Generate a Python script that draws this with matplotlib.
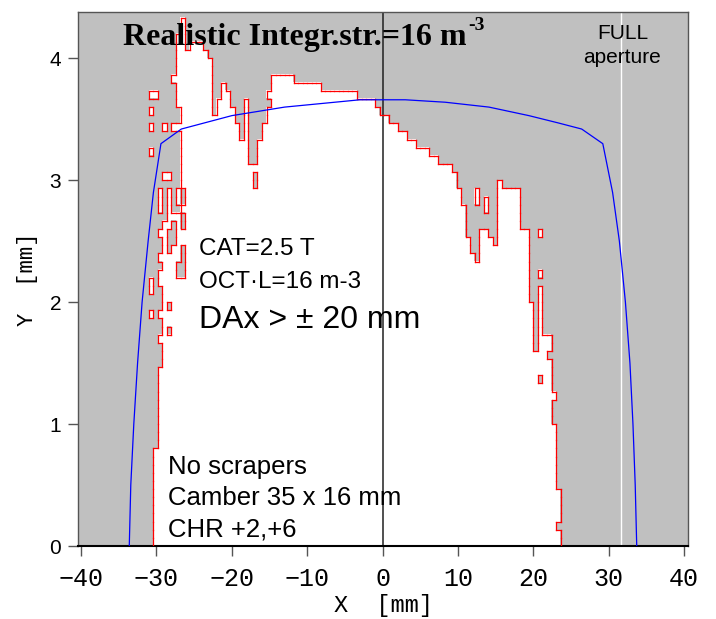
import numpy as np
import matplotlib
matplotlib.use('Agg')
import matplotlib.pyplot as plt
from matplotlib.colors import ListedColormap
from matplotlib.collections import LineCollection

# Tracking grid: cell widths in x and y (mm); column 0 starts at x0
x0, dx = -30.4, 0.6
dy = 1.0 / 15
n_rows = 65
col_lo, col_hi = -2, 91

# Surviving amplitudes: first surviving column per row (left side)
left_edge = [0, 0, 0, 0, 0, 0, 0, 0, 0, 0, 0, 0,
             1, 1, 1, 1, 1, 1, 1, 1, 1, 1,
             2, 2, 2, 1, 2, 2, 1, 2, 2, 2, 1, 1, 2, 1, 2, 2, 1, 2, 2, 1, 1, 1,
             6, 6, 6, 6, 6, 6, 6,
             4, 6, 6, 5, 5, 5, 4,
             5, 5, 5, 5, 5, 5, 5]
# first lost column per row (right side)
right_edge = [90, 90, 89, 90, 90, 90, 90, 89, 89, 89, 89, 89, 89, 89, 89,
              88, 88, 88, 89, 88, 88, 88, 88, 87, 88, 88,
              86, 86, 86, 86, 86, 86, 86, 86, 86, 86, 86, 86, 86, 86, 86,
              86, 86, 86, 86, 86, 86, 86, 86, 86, 86, 86, 86, 86, 86, 86,
              86, 86, 86, 86, 86, 86, 86, 86, 86]
# number of surviving rows per column, columns 0..89
col_top = [65, 65, 65, 65, 65, 63, 65, 61, 62, 62, 62, 61, 60,
           53, 55, 57, 56, 54, 52, 50, 55, 47, 47, 50, 52, 54,
           58, 58, 58, 58, 58, 57, 57, 57, 57, 57, 57,
           56, 56, 56, 56, 56, 56, 56, 56, 55, 55, 55, 55, 54,
           53, 53, 52, 52, 51, 51, 50, 50, 49, 49, 49, 48, 48,
           47, 47, 47, 46, 44, 42, 38, 36, 35, 39, 39, 38, 37,
           45, 44, 44, 44, 44, 39, 39, 30, 24, 32, 65, 65, 65, 65]
# isolated surviving cells (row, col)
islands = [(28, -1), (31, -1), (32, -1), (45, 2), (45, 3), (48, -1),
           (51, -1), (51, 2), (53, -1), (55, -1), (55, 0), (55, 25),
           (41, 73), (42, 73), (42, 71), (43, 71), (33, 85), (38, 85)]
# lost cells inside the surviving region (row, col)
holes = [(26, 3), (29, 3), (33, 5), (33, 6), (34, 5), (34, 6), (35, 6),
         (36, 3), (36, 6), (37, 3), (37, 4), (38, 3), (38, 4), (39, 4),
         (39, 6), (40, 2), (40, 6), (41, 2), (41, 4), (41, 5), (42, 2),
         (42, 4), (42, 6), (43, 2), (43, 4), (43, 6), (44, 22), (45, 22),
         (20, 85)]

# full physical aperture
full_x = [-33.6, -33.4, -33.0, -32.5, -31.9, -31.1, -30.4, -29.4, -26.7,
          -20.0, -13.0, -3.0, 3.0, 8.3, 14.1, 19.4, 23.3, 26.4, 29.2,
          30.5, 31.4, 32.2, 32.8, 33.2, 33.5, 33.7]
full_y = [0.0, 0.5, 1.0, 1.5, 2.0, 2.5, 2.9, 3.30, 3.42, 3.53, 3.60, 3.66,
          3.66, 3.64, 3.60, 3.53, 3.47, 3.42, 3.30, 2.9, 2.5, 2.0, 1.5,
          1.0, 0.5, 0.0]

x_ticks = [-40, -30, -20, -10, 0, 10, 20, 30, 40]
y_ticks = [0, 1, 2, 3, 4]
x_full_line = 31.6

ncol = col_hi - col_lo
mask = np.zeros((n_rows, ncol), dtype=bool)
for i in range(n_rows):
    for j in range(left_edge[i], right_edge[i]):
        if i < col_top[j]:
            mask[i, j - col_lo] = True
for i, j in islands:
    mask[i, j - col_lo] = True
for i, j in holes:
    mask[i, j - col_lo] = False

xe = x0 + (np.arange(ncol + 1) + col_lo) * dx
ye = np.arange(n_rows + 1) * dy

# red outline along every cell boundary between lost and surviving cells
pad = np.zeros((n_rows + 1, ncol + 2), dtype=bool)
pad[:n_rows, 1:-1] = mask
segs = []
vert = pad[:n_rows, 1:] != pad[:n_rows, :-1]
for i, k in zip(*np.nonzero(vert)):
    segs.append([(xe[k], ye[i]), (xe[k], ye[i + 1])])
horiz = pad[1:, 1:-1] != pad[:-1, 1:-1]
for i, k in zip(*np.nonzero(horiz)):
    segs.append([(xe[k], ye[i + 1]), (xe[k + 1], ye[i + 1])])

fig = plt.figure(figsize=(7.16, 6.19), dpi=100)
ax = fig.add_axes([78 / 716, 1 - 546 / 619, 610 / 716, 534 / 619])
ax.set_facecolor('#c0c0c0')

ax.imshow(np.ma.masked_where(~mask, np.ones(mask.shape)),
          cmap=ListedColormap(['white']), origin='lower',
          extent=(xe[0], xe[-1], 0, ye[-1]), interpolation='nearest',
          aspect='auto', zorder=1)
ax.add_collection(LineCollection(segs, colors='#ff0000', linewidths=0.9,
                                 capstyle='projecting', zorder=3))
ax.axvline(x_full_line, color='white', lw=1.0, zorder=2)
ax.axvline(0, color='#202020', lw=1.1, zorder=2.5)
ax.plot(full_x, full_y, color='#0000ff', lw=0.9, zorder=4)

ax.set_xlim(-40.4, 40.5)
ax.set_ylim(0, 4.38)
ax.set_xticks(x_ticks)
ax.set_yticks(y_ticks)
for lab in ax.get_xticklabels():
    lab.set_family('Liberation Mono')
    lab.set_fontsize(18)
for lab in ax.get_yticklabels():
    lab.set_family('Liberation Sans')
    lab.set_fontsize(15)
ax.tick_params(direction='out', length=7, width=1, color='#555555')
ax.tick_params(axis='x', pad=8)
ax.tick_params(axis='y', pad=5)
for side in ('top', 'right', 'left'):
    ax.spines[side].set_color('#555555')
    ax.spines[side].set_linewidth(1)
ax.spines['bottom'].set_color('black')
ax.spines['bottom'].set_linewidth(1.5)
ax.set_xlabel('X  [mm]', family='Liberation Mono', fontsize=17, labelpad=2)
ax.set_ylabel('Y  [mm]', family='Liberation Mono', fontsize=16, labelpad=8)

t = ax.text(-34.4, 4.107, 'Realistic Integr.str.=16 m',
            family='Liberation Serif', weight='bold', fontsize=23, zorder=5)
ax.annotate('-3', xy=(1, 0.62), xycoords=t, xytext=(1, 0),
            textcoords='offset points', family='Liberation Serif',
            weight='bold', fontsize=14, va='bottom', zorder=5)

sans = dict(family='Liberation Sans', zorder=5)
ax.text(31.8, 4.16, 'FULL', ha='center', fontsize=15, **sans)
ax.text(31.8, 3.96, 'aperture', ha='center', fontsize=15, **sans)
ax.text(-24.4, 2.39, 'CAT=2.5 T', fontsize=17.5, **sans)
ax.text(-24.4, 2.115, 'OCT\u00b7L=16 m-3', fontsize=17.5, **sans)
ax.text(-24.4, 1.787, 'DAx > \u00b1 20 mm', fontsize=23, **sans)
ax.text(-28.4, 0.59, 'No scrapers', fontsize=18.5, **sans)
ax.text(-28.4, 0.336, 'Camber 35 x 16 mm', fontsize=18.5, **sans)
ax.text(-28.4, 0.074, 'CHR +2,+6', fontsize=18.5, **sans)

fig.savefig('out.png', dpi=100)
